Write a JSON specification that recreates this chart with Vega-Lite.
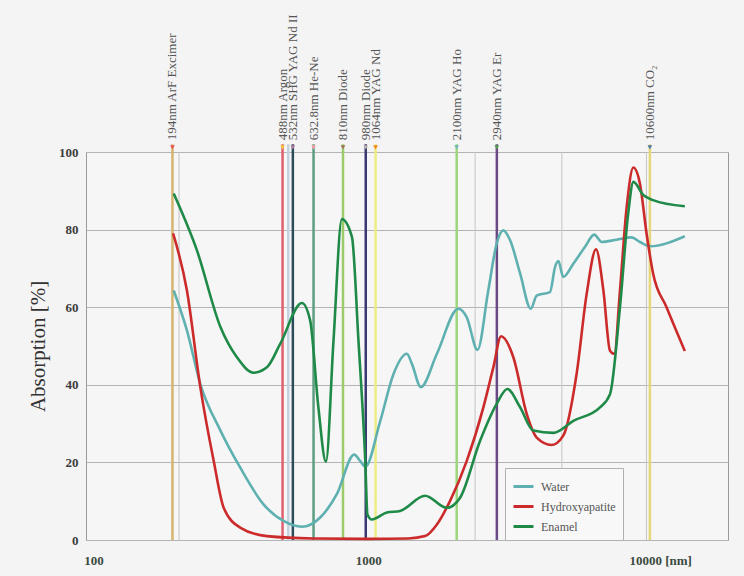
{
  "$schema": "https://vega.github.io/schema/vega-lite/v6.json",
  "width": 642,
  "height": 388,
  "autosize": {"type": "none"},
  "padding": {"left": 86, "top": 152, "right": 16, "bottom": 36},
  "background": "#f4f4f4",
  "config": {
    "view": {"stroke": "#9a9a9a", "strokeWidth": 1, "fill": "#f6f6f6"},
    "font": "Liberation Serif",
    "legend": {"labelFont": "Liberation Serif", "labelFontSize": 12, "labelColor": "#555555"}
  },
  "datasets": {
    "curves": [
      {"series": "Water", "wl": 196, "v": 64.3}, {"series": "Water", "wl": 219, "v": 54}, {"series": "Water", "wl": 245, "v": 40.2},
      {"series": "Water", "wl": 290, "v": 28.2}, {"series": "Water", "wl": 342, "v": 18.7}, {"series": "Water", "wl": 416, "v": 9.2},
      {"series": "Water", "wl": 492, "v": 4.9}, {"series": "Water", "wl": 574, "v": 3.4}, {"series": "Water", "wl": 669, "v": 5.8},
      {"series": "Water", "wl": 769, "v": 11.8}, {"series": "Water", "wl": 889, "v": 22}, {"series": "Water", "wl": 935, "v": 20.4},
      {"series": "Water", "wl": 976, "v": 18.9}, {"series": "Water", "wl": 1107, "v": 30.7}, {"series": "Water", "wl": 1237, "v": 42.8},
      {"series": "Water", "wl": 1383, "v": 48}, {"series": "Water", "wl": 1443, "v": 45.4}, {"series": "Water", "wl": 1555, "v": 39.4},
      {"series": "Water", "wl": 1779, "v": 48}, {"series": "Water", "wl": 2128, "v": 59.6}, {"series": "Water", "wl": 2285, "v": 57.4},
      {"series": "Water", "wl": 2500, "v": 49}, {"series": "Water", "wl": 2736, "v": 64.3}, {"series": "Water", "wl": 2936, "v": 76.4},
      {"series": "Water", "wl": 3104, "v": 79.8}, {"series": "Water", "wl": 3283, "v": 77.3}, {"series": "Water", "wl": 3573, "v": 68.7},
      {"series": "Water", "wl": 3907, "v": 59.6}, {"series": "Water", "wl": 4106, "v": 63}, {"series": "Water", "wl": 4590, "v": 63.9},
      {"series": "Water", "wl": 4790, "v": 70.4}, {"series": "Water", "wl": 4922, "v": 71.9}, {"series": "Water", "wl": 5130, "v": 67.8},
      {"series": "Water", "wl": 5580, "v": 71.2}, {"series": "Water", "wl": 6150, "v": 75.5}, {"series": "Water", "wl": 6650, "v": 78.7},
      {"series": "Water", "wl": 7080, "v": 76.8}, {"series": "Water", "wl": 8020, "v": 77.4}, {"series": "Water", "wl": 9090, "v": 78},
      {"series": "Water", "wl": 9750, "v": 76.8}, {"series": "Water", "wl": 10600, "v": 75.7}, {"series": "Water", "wl": 14210, "v": 78.3},

      {"series": "Hydroxyapatite", "wl": 195, "v": 79}, {"series": "Hydroxyapatite", "wl": 219, "v": 64.3}, {"series": "Hydroxyapatite", "wl": 245, "v": 39.4},
      {"series": "Hydroxyapatite", "wl": 274, "v": 20.4}, {"series": "Hydroxyapatite", "wl": 298, "v": 8.3}, {"series": "Hydroxyapatite", "wl": 342, "v": 3.2},
      {"series": "Hydroxyapatite", "wl": 428, "v": 1.0}, {"series": "Hydroxyapatite", "wl": 631, "v": 0.4}, {"series": "Hydroxyapatite", "wl": 1000, "v": 0.3},
      {"series": "Hydroxyapatite", "wl": 1400, "v": 0.4}, {"series": "Hydroxyapatite", "wl": 1611, "v": 1.0}, {"series": "Hydroxyapatite", "wl": 1779, "v": 4},
      {"series": "Hydroxyapatite", "wl": 1987, "v": 10.1}, {"series": "Hydroxyapatite", "wl": 2285, "v": 20.4}, {"series": "Hydroxyapatite", "wl": 2626, "v": 34.2},
      {"series": "Hydroxyapatite", "wl": 2855, "v": 44.5}, {"series": "Hydroxyapatite", "wl": 3047, "v": 52.5}, {"series": "Hydroxyapatite", "wl": 3376, "v": 47.1},
      {"series": "Hydroxyapatite", "wl": 3776, "v": 32.5}, {"series": "Hydroxyapatite", "wl": 4106, "v": 26.4}, {"series": "Hydroxyapatite", "wl": 4652, "v": 24.5},
      {"series": "Hydroxyapatite", "wl": 5130, "v": 26.9}, {"series": "Hydroxyapatite", "wl": 5736, "v": 42.8}, {"series": "Hydroxyapatite", "wl": 6243, "v": 63.5},
      {"series": "Hydroxyapatite", "wl": 6750, "v": 74.9}, {"series": "Hydroxyapatite", "wl": 7180, "v": 64.3}, {"series": "Hydroxyapatite", "wl": 7590, "v": 48.8},
      {"series": "Hydroxyapatite", "wl": 7870, "v": 48}, {"series": "Hydroxyapatite", "wl": 8250, "v": 64.3}, {"series": "Hydroxyapatite", "wl": 8730, "v": 85.9},
      {"series": "Hydroxyapatite", "wl": 9230, "v": 96}, {"series": "Hydroxyapatite", "wl": 9750, "v": 91.9}, {"series": "Hydroxyapatite", "wl": 10310, "v": 79},
      {"series": "Hydroxyapatite", "wl": 10890, "v": 68.7}, {"series": "Hydroxyapatite", "wl": 12190, "v": 60}, {"series": "Hydroxyapatite", "wl": 14210, "v": 48.7},

      {"series": "Enamel", "wl": 196, "v": 89.3}, {"series": "Enamel", "wl": 238, "v": 74.7}, {"series": "Enamel", "wl": 290, "v": 54.9},
      {"series": "Enamel", "wl": 333, "v": 47.1}, {"series": "Enamel", "wl": 383, "v": 43.1}, {"series": "Enamel", "wl": 428, "v": 44.5},
      {"series": "Enamel", "wl": 479, "v": 50.6}, {"series": "Enamel", "wl": 574, "v": 61.1}, {"series": "Enamel", "wl": 615, "v": 56.6},
      {"series": "Enamel", "wl": 659, "v": 34.2}, {"series": "Enamel", "wl": 702, "v": 20.2}, {"series": "Enamel", "wl": 748, "v": 51.4},
      {"series": "Enamel", "wl": 802, "v": 82.7}, {"series": "Enamel", "wl": 873, "v": 78.1}, {"series": "Enamel", "wl": 922, "v": 51.4},
      {"series": "Enamel", "wl": 976, "v": 20.4}, {"series": "Enamel", "wl": 994, "v": 6.6}, {"series": "Enamel", "wl": 1031, "v": 5.3},
      {"series": "Enamel", "wl": 1169, "v": 7.1}, {"series": "Enamel", "wl": 1307, "v": 7.5}, {"series": "Enamel", "wl": 1611, "v": 11.4},
      {"series": "Enamel", "wl": 1932, "v": 8.3}, {"series": "Enamel", "wl": 2161, "v": 10.9}, {"series": "Enamel", "wl": 2555, "v": 25.6},
      {"series": "Enamel", "wl": 2936, "v": 35.1}, {"series": "Enamel", "wl": 3211, "v": 38.9}, {"series": "Enamel", "wl": 3573, "v": 34.2},
      {"series": "Enamel", "wl": 3991, "v": 28.2}, {"series": "Enamel", "wl": 4720, "v": 27.6}, {"series": "Enamel", "wl": 5580, "v": 30.7},
      {"series": "Enamel", "wl": 6980, "v": 34.2}, {"series": "Enamel", "wl": 7590, "v": 37.6}, {"series": "Enamel", "wl": 8250, "v": 60},
      {"series": "Enamel", "wl": 8840, "v": 84.2}, {"series": "Enamel", "wl": 9230, "v": 92.3}, {"series": "Enamel", "wl": 10030, "v": 88.9},
      {"series": "Enamel", "wl": 10890, "v": 87.6}, {"series": "Enamel", "wl": 14210, "v": 86}
    ],
    "lasers": [
      {"name": "194nm ArF Excimer", "wl": 194},
      {"name": "488nm Argon", "wl": 488},
      {"name": "514nm", "wl": 512},
      {"name": "532nm SHG YAG Nd II", "wl": 532},
      {"name": "632.8nm He-Ne", "wl": 632.8},
      {"name": "810nm Diode", "wl": 810},
      {"name": "980nm Diode", "wl": 980},
      {"name": "1064nm YAG Nd", "wl": 1064},
      {"name": "2100nm YAG Ho", "wl": 2100},
      {"name": "2940nm YAG Er", "wl": 2940},
      {"name": "10600nm CO₂", "wl": 10600}
    ],
    "vgrid": [{"g": 205}, {"g": 2450}, {"g": 5070}, {"g": 10300}]
  },
  "resolve": {"scale": {"color": "independent"}},
  "layer": [
    {
      "data": {"name": "vgrid"},
      "mark": {"type": "rule", "color": "#c4c4c4", "strokeWidth": 1},
      "encoding": {
        "x": {"field": "g", "type": "quantitative", "scale": {"type": "log", "domain": [94, 20400], "nice": false}}
      }
    },
    {
      "data": {"name": "lasers"},
      "mark": {"type": "rule", "strokeWidth": 2.5, "clip": false},
      "encoding": {
        "x": {"field": "wl", "type": "quantitative", "scale": {"type": "log", "domain": [94, 20400], "nice": false},
          "axis": {"values": [100, 1000, 10000], "grid": false, "ticks": false, "domain": false, "format": "d",
            "labelExpr": "datum.value == 10000 ? '10000 [nm]' : datum.label",
            "labelAlign": {"condition": {"test": "datum.value == 10000", "value": "left"}, "value": "center"},
            "labelOffset": {"condition": {"test": "datum.value == 10000", "value": -14}, "value": 0},
            "labelPadding": 14, "labelFontSize": 13, "labelFontWeight": "bold", "labelColor": "#3c4a40",
            "labelFont": "Liberation Serif", "title": null, "labelFlush": false}},
        "y": {"datum": 102, "type": "quantitative", "scale": {"domain": [0, 100], "nice": false}},
        "y2": {"datum": 0},
        "color": {"field": "name", "type": "nominal", "legend": null,
          "scale": {"domain": ["194nm ArF Excimer", "488nm Argon", "514nm", "532nm SHG YAG Nd II", "632.8nm He-Ne", "810nm Diode", "980nm Diode", "1064nm YAG Nd", "2100nm YAG Ho", "2940nm YAG Er", "10600nm CO₂"],
            "range": ["#d6b46e", "#e0606e", "#c4d2e0", "#2c4c5c", "#5e9e80", "#9ccc6a", "#3a3a72", "#eeec82", "#9cd67a", "#6a4a84", "#e6d87a"]}}
      }
    },
    {
      "data": {"name": "lasers"},
      "transform": [{"filter": "datum.wl != 512"}],
      "mark": {"type": "point", "shape": "triangle-down", "filled": true, "size": 22, "opacity": 1, "clip": false},
      "encoding": {
        "x": {"field": "wl", "type": "quantitative"},
        "y": {"datum": 101.2, "type": "quantitative"},
        "color": {"field": "name", "type": "nominal", "legend": null}
      }
    },
    {
      "data": {"name": "lasers"},
      "transform": [{"filter": "datum.wl != 512"}],
      "mark": {"type": "text", "angle": 270, "align": "left", "baseline": "middle", "fontSize": 13, "font": "Liberation Serif", "color": "#555555", "clip": false},
      "encoding": {
        "x": {"field": "wl", "type": "quantitative"},
        "y": {"datum": 103.0, "type": "quantitative"},
        "text": {"field": "name", "type": "nominal"}
      }
    },
    {
      "data": {"name": "curves"},
      "mark": {"type": "line", "interpolate": "monotone", "strokeWidth": 2.6},
      "encoding": {
        "x": {"field": "wl", "type": "quantitative"},
        "y": {"field": "v", "type": "quantitative",
          "axis": {"values": [0, 20, 40, 60, 80, 100], "grid": true, "gridColor": "#b4b4b4", "gridWidth": 1,
            "ticks": false, "domain": false, "labelPadding": 8, "labelFontSize": 13, "labelFontWeight": "bold",
            "labelColor": "#3c3c3c", "labelFont": "Liberation Serif",
            "title": "Absorption [%]", "titleFont": "Liberation Serif", "titleFontSize": 21, "titleFontWeight": "normal",
            "titleColor": "#333333", "titlePadding": 10}},
        "color": {"field": "series", "type": "nominal",
          "scale": {"domain": ["Water", "Hydroxyapatite", "Enamel"], "range": ["#5fb0b0", "#cc2b2b", "#1f8a48"]},
          "legend": {"orient": "none", "legendX": 419, "legendY": 316, "title": null, "symbolType": "stroke",
            "symbolStrokeWidth": 3, "symbolSize": 400, "labelFontSize": 12,
            "labelColor": "#555555", "fillColor": "#f8f8f8", "strokeColor": "#b0b0b0", "padding": 7, "rowPadding": 2,
            "labelOffset": 6, "labelLimit": 200,
            "encode": {"labels": {"update": {"font": {"value": "Liberation Serif"}, "fontSize": {"value": 12}}}}}}
      }
    }
  ]
}
